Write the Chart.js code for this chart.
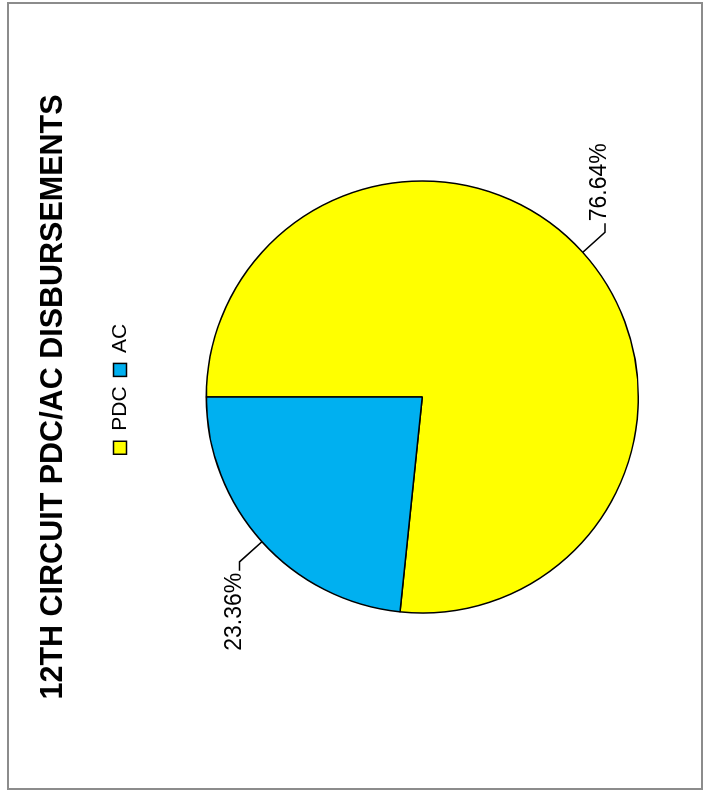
<!DOCTYPE html>
<html>
<head>
<meta charset="utf-8">
<script src="https://cdn.jsdelivr.net/npm/chart.js@4"></script>
<style>
  html, body { margin: 0; padding: 0; background: #fff; overflow: hidden; }
  /* chart is laid out upright, then turned a quarter left like the reference */
  #frame {
    position: absolute; left: 0; top: 0;
    width: 791px; height: 704px;
    transform-origin: 0 0;
    transform: translateY(791px) rotate(-90deg);
  }
  #border {
    position: absolute; left: 1px; top: 7px;
    width: 788px; height: 696px;
    box-sizing: border-box;
    border: 2px solid #8c8c8c;
  }
  canvas { position: absolute; left: 0; top: 0; }
</style>
</head>
<body>
<div id="frame">
  <div id="border"></div>
  <canvas id="pieChart" width="791" height="704"></canvas>
</div>
<script>
const chartTitle = "12TH CIRCUIT PDC/AC DISBURSEMENTS";
const categories = ["PDC", "AC"];
const shares = [76.64, 23.36];
const sliceColors = ["#FFFF00", "#00B0F0"];

// percent labels outside the pie with a bent leader line
const leaderLabels = {
  id: "leaderLabels",
  afterLayout(chart) {
    // legend sits a little right of centre in the reference
    chart.legend.left += 8;
    chart.legend.right += 8;
  },
  afterDatasetsDraw(chart) {
    const ctx = chart.ctx;
    const arcs = chart.getDatasetMeta(0).data;
    ctx.save();
    ctx.strokeStyle = "#000";
    ctx.fillStyle = "#000";
    ctx.lineWidth = 1.5;
    ctx.font = "23px 'Liberation Sans', Arial, sans-serif";
    ctx.textBaseline = "alphabetic";
    arcs.forEach((arc, i) => {
      const mid = (arc.startAngle + arc.endAngle) / 2;
      const cos = Math.cos(mid);
      const sin = Math.sin(mid);
      const x1 = arc.x + cos * arc.outerRadius;
      const y1 = arc.y + sin * arc.outerRadius;
      const x2 = arc.x + cos * (arc.outerRadius + 30);
      const y2 = arc.y + sin * (arc.outerRadius + 30);
      const dir = cos >= 0 ? 1 : -1;
      const x3 = x2 + dir * 9;
      ctx.beginPath();
      ctx.moveTo(x1, y1);
      ctx.lineTo(x2, y2);
      ctx.lineTo(x3, y2);
      ctx.stroke();
      ctx.textAlign = dir > 0 ? "left" : "right";
      ctx.fillText(shares[i].toFixed(2) + "%", x3 + dir * 2, y2 + 1);
    });
    ctx.restore();
  }
};

new Chart(document.getElementById("pieChart"), {
  type: "pie",
  data: {
    labels: categories,
    datasets: [{
      data: shares,
      backgroundColor: sliceColors,
      borderColor: "#000",
      borderWidth: 1.5
    }]
  },
  options: {
    responsive: false,
    animation: false,
    radius: 216,
    layout: { padding: { top: 0, left: 0, right: 3, bottom: -2 } },
    plugins: {
      title: {
        display: true,
        text: chartTitle,
        color: "#000",
        font: { family: "'Liberation Sans', Arial, sans-serif", size: 30.5, weight: "bold" },
        padding: { top: 35, bottom: 28 }
      },
      legend: {
        position: "top",
        labels: {
          color: "#000",
          font: { family: "'Liberation Sans', Arial, sans-serif", size: 21 },
          boxWidth: 13,
          boxHeight: 13,
          padding: 10
        }
      },
      tooltip: { enabled: false }
    }
  },
  plugins: [leaderLabels]
});
</script>
</body>
</html>
